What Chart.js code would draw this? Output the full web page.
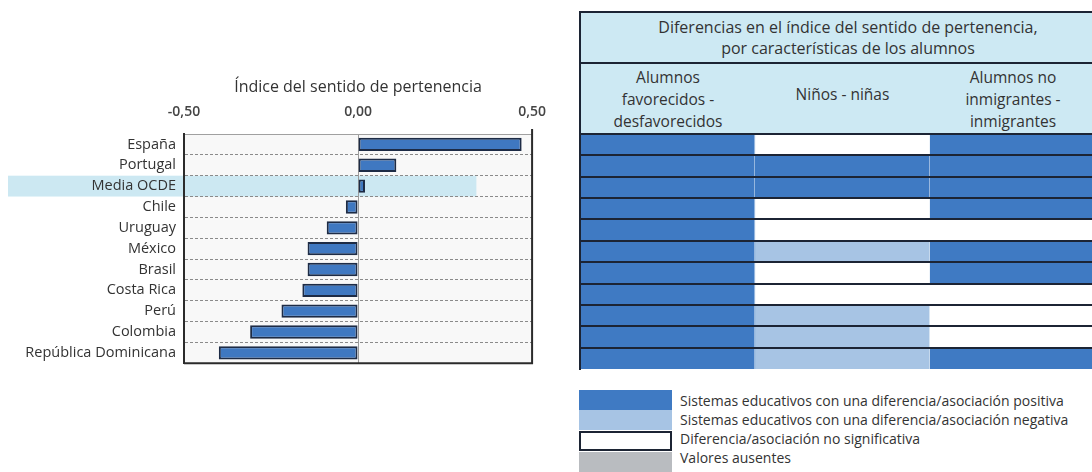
<!DOCTYPE html>
<html lang="es">
<head>
<meta charset="utf-8">
<script src="https://cdn.jsdelivr.net/npm/chart.js@4.4.1/dist/chart.umd.min.js"></script>
<style>
  body { margin: 0; background: #fff; font-family: "Open Sans", sans-serif; color: #333; }
  #wrap { position: relative; width: 1092px; height: 472px; overflow: hidden; }
  #indexChart { position: absolute; left: 0; top: 0; }
  #tableChart { position: absolute; left: 578px; top: 132px; }
  #tblHead {
    position: absolute; left: 579px; top: 11px; width: 540px; height: 123px;
    box-sizing: border-box; border-top: 2px solid #1c2434; border-left: 2px solid #1c2434;
    background: #cde9f3;
  }
  #tblHead .ttl {
    width: 534px; height: 51px; box-sizing: border-box; border-bottom: 2px solid #1c2434;
    display: flex; align-items: center; justify-content: center; text-align: center;
    font-size: 16px; line-height: 21px;
  }
  #tblHead .cols { position: relative; height: 69px; }
  #tblHead .cell {
    position: absolute; top: 0; height: 69px; display: flex; align-items: center;
    justify-content: center; text-align: center; font-size: 15.5px; line-height: 22px;
  }
  #legend .sw { position: absolute; left: 579px; width: 93px; box-sizing: border-box; }
  #legend .txt { position: absolute; left: 680px; font-size: 14px; line-height: 19px; white-space: nowrap; }
</style>
</head>
<body>
<div id="wrap">
  <canvas id="indexChart" width="560" height="380"></canvas>

  <div id="tblHead">
    <div class="ttl">Diferencias en el índice del sentido de pertenencia,<br>por características de los alumnos</div>
    <div class="cols" id="colHeads"></div>
  </div>
  <canvas id="tableChart" width="514" height="240"></canvas>

  <div id="legend"></div>
</div>

<script>
// Countries, top to bottom
const countries = ['España', 'Portugal', 'Media OCDE', 'Chile', 'Uruguay', 'México', 'Brasil',
  'Costa Rica', 'Perú', 'Colombia', 'República Dominicana'];

// Sense of belonging index
const belongingIndex = [0.47, 0.11, 0.02, -0.035, -0.09, -0.145, -0.145, -0.16, -0.22, -0.31, -0.40];

const xTickValues = [-0.5, 0, 0.5];
const xTickLabels = ['-0,50', '0,00', '0,50'];

// Difference status per column: P positive, N negative, NS not significant, NA missing
const advantagedGap = ['P', 'P', 'P', 'P', 'P', 'P', 'P', 'P', 'P', 'P', 'P'];
const genderGap     = ['NS', 'P', 'P', 'NS', 'NS', 'N', 'NS', 'NS', 'N', 'N', 'N'];
const immigrantGap  = ['P', 'P', 'P', 'P', 'NS', 'P', 'P', 'NS', 'NS', 'NS', 'P'];

const columnHeads = [
  ['Alumnos', 'favorecidos -', 'desfavorecidos'],
  ['Niños - niñas'],
  ['Alumnos no', 'inmigrantes -', 'inmigrantes']
];

const legendLabels = [
  'Sistemas educativos con una diferencia/asociación positiva',
  'Sistemas educativos con una diferencia/asociación negativa',
  'Diferencia/asociación no significativa',
  'Valores ausentes'
];
const legendKeys = ['P', 'N', 'NS', 'NA'];

const statusColors = { P: '#3f7ac3', N: '#a7c4e4', NS: '#ffffff', NA: '#b9bcc0' };
const lineDark = '#1c2434';

Chart.defaults.font.family = '"Open Sans", sans-serif';
Chart.defaults.color = '#333';

// plot background, OCDE row highlight and right/bottom frame
const plotFrame = {
  id: 'plotFrame',
  beforeDraw(chart) {
    const { ctx, chartArea: a, scales: { x, y } } = chart;
    ctx.save();
    ctx.fillStyle = '#f8f8f8';
    ctx.fillRect(a.left, a.top, a.right - a.left, a.bottom - a.top);
    const i = countries.indexOf('Media OCDE');
    const half = (y.getPixelForValue(1) - y.getPixelForValue(0)) / 2;
    const cy = y.getPixelForValue(i);
    ctx.fillStyle = '#cce8f2';
    ctx.fillRect(8, cy - half, x.getPixelForValue(0.34) - 8, half * 2);
    ctx.restore();
  },
  afterDraw(chart) {
    const { ctx, chartArea: a } = chart;
    ctx.save();
    ctx.strokeStyle = '#2b2b2b';
    ctx.lineWidth = 2;
    ctx.beginPath();
    ctx.moveTo(a.left, a.bottom);
    ctx.lineTo(a.right, a.bottom);
    ctx.lineTo(a.right, a.top - 5);
    ctx.stroke();
    ctx.restore();
  }
};

new Chart(document.getElementById('indexChart'), {
  type: 'bar',
  data: {
    labels: countries,
    datasets: [{
      data: belongingIndex,
      backgroundColor: '#3f78c1',
      borderColor: '#1d2b45',
      borderWidth: 2,
      borderSkipped: false,
      barPercentage: 0.64,
      categoryPercentage: 1
    }]
  },
  options: {
    indexAxis: 'y',
    responsive: false,
    animation: false,
    layout: { padding: 0 },
    plugins: { legend: { display: false }, tooltip: { enabled: false } },
    scales: {
      x: {
        position: 'top',
        min: -0.5,
        max: 0.5,
        afterBuildTicks: s => { s.ticks = xTickValues.map(v => ({ value: v })); },
        afterFit: s => { s.height = 134; },
        ticks: {
          padding: 14,
          font: { size: 14, weight: '600' },
          color: '#444',
          callback: (v, i) => xTickLabels[i]
        },
        grid: {
          drawTicks: false,
          color: c => (c.tick && c.tick.value === 0) ? '#9a9a9a' : 'transparent'
        },
        border: { color: '#a0a0a0', width: 1 },
        title: {
          display: true,
          text: 'Índice del sentido de pertenencia',
          font: { size: 16 },
          color: '#333',
          padding: { top: 78, bottom: 0 }
        }
      },
      y: {
        afterFit: s => { s.width = 184; },
        ticks: { padding: 8, font: { size: 14.5 }, color: '#333' },
        grid: {
          offset: true,
          drawTicks: false,
          color: c => (c.type === 'tick' && c.index > 0) ? '#8a8a8a' : 'transparent'
        },
        border: { color: '#2b2b2b', width: 2, dash: [3, 2] }
      }
    }
  },
  plugins: [plotFrame]
});

// table body: one floating bar per cell, coloured by status
const gapColumns = [advantagedGap, genderGap, immigrantGap];

new Chart(document.getElementById('tableChart'), {
  type: 'bar',
  data: {
    labels: countries,
    datasets: gapColumns.map((col, c) => ({
      data: col.map(() => [c, c + 1]),
      backgroundColor: col.map(s => statusColors[s]),
      borderWidth: 0,
      grouped: false,
      barPercentage: 1,
      categoryPercentage: 1
    }))
  },
  options: {
    indexAxis: 'y',
    responsive: false,
    animation: false,
    layout: { padding: { left: 2, top: 2, bottom: 3, right: 0 } },
    plugins: { legend: { display: false }, tooltip: { enabled: false } },
    scales: {
      x: {
        min: 0,
        max: 2.93,
        afterBuildTicks: s => { s.ticks = [1, 2].map(v => ({ value: v })); },
        afterFit: s => { s.height = 0; },
        ticks: { display: false },
        grid: { z: 1, drawTicks: false, color: 'rgba(255,255,255,0.45)', lineWidth: 1 },
        border: { display: false }
      },
      y: {
        afterFit: s => { s.width = 0; },
        ticks: { display: false },
        grid: {
          z: 2,
          offset: true,
          drawTicks: false,
          lineWidth: 2,
          color: c => c.type === 'tick' ? lineDark : 'transparent'
        },
        border: { z: 2, color: lineDark, width: 2 }
      }
    }
  }
});

// column headings
const colLefts = [0, 174, 349];
const colWidths = [174, 175, 166];
const colHeads = document.getElementById('colHeads');
columnHeads.forEach((lines, i) => {
  const cell = document.createElement('div');
  cell.className = 'cell';
  cell.style.left = colLefts[i] + 'px';
  cell.style.width = colWidths[i] + 'px';
  cell.innerHTML = lines.join('<br>');
  if (lines.length === 1) cell.style.paddingBottom = '10px';
  cell.style.boxSizing = 'border-box';
  colHeads.appendChild(cell);
});

// legend
const legend = document.getElementById('legend');
const swatchTops = [390, 410, 431, 452];
legendKeys.forEach((k, i) => {
  const sw = document.createElement('div');
  sw.className = 'sw';
  sw.style.top = swatchTops[i] + 'px';
  sw.style.height = '20px';
  sw.style.background = statusColors[k];
  if (k === 'NS') sw.style.border = '2px solid ' + lineDark;
  legend.appendChild(sw);

  const t = document.createElement('div');
  t.className = 'txt';
  t.style.top = (390.5 + i * 19) + 'px';
  t.textContent = legendLabels[i];
  legend.appendChild(t);
});
</script>
</body>
</html>
